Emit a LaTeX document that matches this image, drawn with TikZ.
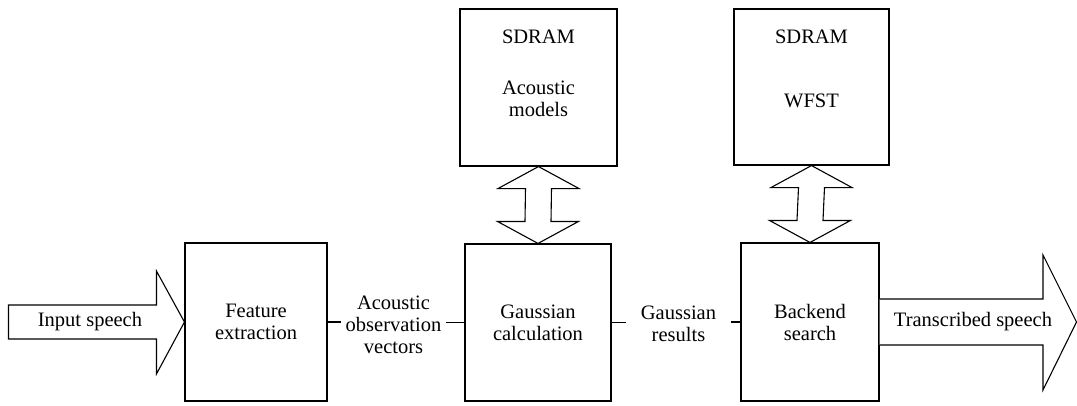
\documentclass[tikz,border=0pt]{standalone}
\usepackage{fontspec}
\setmainfont{Liberation Serif}
\usetikzlibrary{calc}
\begin{document}
\begin{tikzpicture}[x=1pt,y=-1pt,
  line width=1.1pt,
  txt/.style={font=\fontsize{20.5}{22}\selectfont,align=center,inner sep=2pt},
  box/.style={txt,draw,line width=1.1pt},
  blockarrow/.style={draw,fill=white,line width=1.1pt,line join=miter},
  link/.style={line width=1.1pt}]
\useasboundingbox (0,0) rectangle (1077,405);

% processing blocks
\node[box,minimum width=142pt,minimum height=158pt] (fe) at (256,322) {Feature\\extraction};
\node[box,minimum width=146pt,minimum height=157pt] (gc) at (538,322.5) {Gaussian\\calculation};
\node[box,minimum width=138pt,minimum height=158pt] (bs) at (810,322) {Backend\\search};

% memories
\node[box,minimum width=157pt,minimum height=157pt] (am) at (538.5,87.5) {};
\node[txt] (amh) at (538.5,37) {SDRAM};
\node[txt] (amt) at (538.5,99) {Acoustic\\models};
\node[box,minimum width=155pt,minimum height=156pt] (wf) at (811.5,87) {};
\node[txt] (wfh) at (811.5,37) {SDRAM};
\node[txt] (wft) at (811.5,101) {WFST};

% input and output block arrows
\draw[blockarrow] ($(fe.west)+(-176,-17)$) -- ($(fe.west)+(-28,-17)$) -- ($(fe.west)+(-28,-51)$)
  -- (fe.west) -- ($(fe.west)+(-28,52)$) -- ($(fe.west)+(-28,17)$) -- ($(fe.west)+(-176,17)$) -- cycle;
\node[txt] (in) at (90,322) {Input speech};

\coordinate (out) at (1076.5,322);
\draw[blockarrow] ($(bs.east)+(0,-23)$) -- ($(out)+(-33.5,-23)$) -- ($(out)+(-33.5,-67)$)
  -- (out) -- ($(out)+(-33.5,68)$) -- ($(out)+(-33.5,23)$) -- ($(bs.east)+(0,23)$);
\node[txt] (outt) at (973,322) {Transcribed speech};

% bidirectional memory buses
\newcommand\busarrow[2]{%
  \draw[blockarrow] (#1.south) -- ($(#1.south)+(40.5,22)$) -- ($(#1.south)+(13,22)$)
    -- ($(#2.north)+(13,-22)$) -- ($(#2.north)+(40.5,-22)$) -- (#2.north)
    -- ($(#2.north)+(-40.5,-22)$) -- ($(#2.north)+(-13,-22)$)
    -- ($(#1.south)+(-13,22)$) -- ($(#1.south)+(-40.5,22)$) -- cycle;}
\busarrow{am}{gc}
\busarrow{wf}{bs}

% data between blocks
\node[txt,inner sep=0pt,minimum width=104pt] (aov) at (393.5,325) {Acoustic\\observation\\vectors};
\node[txt,inner sep=0pt,minimum width=104pt] (gr) at (678.5,324) {Gaussian\\results};
\draw[link] (fe.east) -- (fe.east -| aov.west);
\draw[link] (gc.west -| aov.east) -- (gc.west);
\draw[link] (gc.east) -- (gc.east -| gr.west);
\draw[link] (bs.west -| gr.east) -- (bs.west);
\end{tikzpicture}
\end{document}
